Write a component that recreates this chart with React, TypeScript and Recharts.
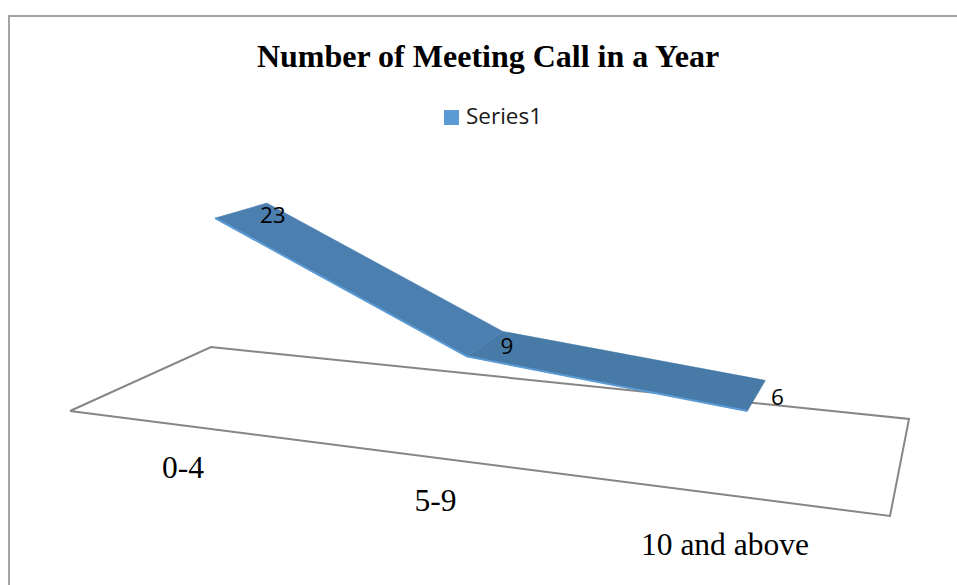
import { ScatterChart, Scatter, XAxis, YAxis, Legend, LabelList } from 'recharts'

const categories = ['0-4', '5-9', '10 and above']
const values = [23, 9, 6]
const seriesName = 'Series1'
const chartTitle = 'Number of Meeting Call in a Year'

// where the categories sit along the floor (0 = left end, 1 = right end)
const categoryU = [1 / 6, 1 / 2, 5 / 6]
const tickU = [0.25, 0.553, 0.857]
const tickDepth = [-0.38, -0.36, -0.385]
const valueLabelDx = [6, 4, 12]
const valueLabelDy = [11, 14, 16]

const RIBBON_FRONT = 0.31
const RIBBON_BACK = 0.69

const WIDTH = 957
const HEIGHT = 585

// perspective camera fitted to the floor of the 3D plot
// u = along categories, v = depth, t = value
function project(u: number, v: number, t: number) {
  const w = 1 - 0.2063 * u + 0.1804 * v - 0.0025 * t
  return {
    x: (636.4 * u + 179.06 * v + 70 - 1.05 * t) / w,
    y: (-1.45 * u - 1.4 * v + 411 - 8.7 * t) / w,
  }
}

const floorRing = [
  project(0, 0, 0),
  project(1, 0, 0),
  project(1, 1, 0),
  project(0, 1, 0),
  project(0, 0, 0),
]

function segment(i: number) {
  return [
    project(categoryU[i], RIBBON_FRONT, values[i]),
    project(categoryU[i + 1], RIBBON_FRONT, values[i + 1]),
    project(categoryU[i + 1], RIBBON_BACK, values[i + 1]),
    project(categoryU[i], RIBBON_BACK, values[i]),
    project(categoryU[i], RIBBON_FRONT, values[i]),
  ]
}

const frontEdge = values.map((v, i) => project(categoryU[i], RIBBON_FRONT, v))

const valueLabels = values.map((v, i) => {
  const p = project(categoryU[i], RIBBON_BACK, v)
  return { x: p.x + valueLabelDx[i], y: p.y + valueLabelDy[i], label: v }
})

const tickLabels = categories.map((c, i) => ({
  ...project(tickU[i], tickDepth[i], 0),
  label: c,
}))

const noMark = () => <g />

// the default label wraps to the symbol's width, so draw it plainly
function plainLabel(fontFamily: string, fontSize: number) {
  return (p: any) => (
    <text
      x={p.viewBox.x + p.viewBox.width / 2}
      y={p.viewBox.y + p.viewBox.height / 2}
      textAnchor="middle"
      dominantBaseline="central"
      fontFamily={fontFamily}
      fontSize={fontSize}
      fill="#000"
    >
      {p.value}
    </text>
  )
}

export default function App() {
  return (
    <div style={{ position: 'absolute', left: 0, top: 0, width: WIDTH, height: HEIGHT, background: '#fff', overflow: 'hidden' }}>
      <div
        style={{
          position: 'absolute',
          left: 8,
          top: 15,
          right: -4,
          bottom: -4,
          borderLeft: '2px solid #a3a3a3',
          borderTop: '2px solid #a3a3a3',
        }}
      />
      <ScatterChart width={WIDTH} height={HEIGHT} margin={{ top: 0, right: 0, bottom: 0, left: 0 }} style={{ position: 'absolute', left: 0, top: 0 }}>
        <XAxis type="number" dataKey="x" domain={[0, WIDTH]} allowDataOverflow hide />
        <YAxis type="number" dataKey="y" domain={[0, HEIGHT]} reversed allowDataOverflow hide />
        <text x={488} y={67} textAnchor="middle" fontFamily="'Liberation Serif'" fontWeight="bold" fontSize={32} fill="#000">
          {chartTitle}
        </text>
        <Legend
          layout="horizontal"
          verticalAlign="middle"
          align="center"
          iconType="square"
          iconSize={15}
          wrapperStyle={{ left: 444, top: 100, width: 'auto', fontFamily: "'Open Sans'", fontSize: 22.5 }}
          formatter={(name: string) => <span style={{ color: '#1a1a1a', paddingLeft: 3 }}>{name}</span>}
        />
        <Scatter
          data={floorRing}
          legendType="none"
          shape={noMark}
          line={{ stroke: '#868686', strokeWidth: 2, fill: 'none' }}
          isAnimationActive={false}
        />
        <Scatter
          data={segment(1)}
          legendType="none"
          shape={noMark}
          line={{ stroke: '#477aa7', strokeWidth: 0.5, fill: '#477aa7' }}
          isAnimationActive={false}
        />
        <Scatter
          data={segment(0)}
          legendType="none"
          shape={noMark}
          line={{ stroke: '#4b7fb0', strokeWidth: 0.5, fill: '#4b7fb0' }}
          isAnimationActive={false}
        />
        <Scatter
          name={seriesName}
          data={frontEdge}
          fill="#5b9bd5"
          shape={noMark}
          line={{ stroke: '#5b9bd5', strokeWidth: 2, fill: 'none' }}
          isAnimationActive={false}
        />
        <Scatter data={valueLabels} legendType="none" shape={noMark} isAnimationActive={false}>
          <LabelList dataKey="label" content={plainLabel("'Open Sans'", 22.5)} />
        </Scatter>
        <Scatter data={tickLabels} legendType="none" shape={noMark} isAnimationActive={false}>
          <LabelList dataKey="label" content={plainLabel("'Liberation Serif'", 31.5)} />
        </Scatter>
      </ScatterChart>
    </div>
  )
}
